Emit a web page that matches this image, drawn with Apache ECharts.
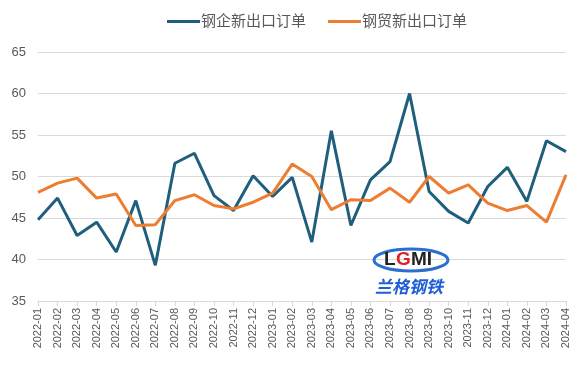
<!DOCTYPE html>
<html>
<head>
<meta charset="utf-8">
<script src="https://cdn.jsdelivr.net/npm/echarts@6/dist/echarts.min.js"></script>
<style>html,body{margin:0;padding:0;background:#fff}#c{width:578px;height:374px}</style>
</head>
<body>
<div id="c"></div>
<script>
const categories = ['2022-01','2022-02','2022-03','2022-04','2022-05','2022-06','2022-07','2022-08','2022-09','2022-10','2022-11','2022-12',
'2023-01','2023-02','2023-03','2023-04','2023-05','2023-06','2023-07','2023-08','2023-09','2023-10','2023-11','2023-12',
'2024-01','2024-02','2024-03','2024-04'];
const steelMills = [44.8,47.4,42.9,44.5,40.9,47.1,39.3,51.6,52.8,47.7,45.9,50.1,47.6,49.9,42.1,55.5,44.1,49.6,51.8,60.0,48.2,45.8,44.4,48.8,51.1,47.0,54.3,53.0];
const steelTraders = [48.1,49.2,49.8,47.4,47.9,44.1,44.2,47.1,47.8,46.5,46.1,46.9,48.0,51.5,50.0,46.0,47.2,47.1,48.6,46.9,50.0,48.0,49.0,46.8,45.9,46.5,44.5,50.2];
const seriesNames = ['钢企新出口订单','钢贸新出口订单'];
const yTicks = {min:35, max:65, interval:5};

const chart = echarts.init(document.getElementById('c'));
chart.setOption({
  animation:false,
  textStyle:{fontFamily:'"Liberation Sans","Noto Sans CJK SC",sans-serif'},
  legend:{
    top:9, left:162, itemWidth:33, itemHeight:3, itemGap:22,
    icon:'rect',
    textStyle:{fontSize:15,color:'#595959',padding:[0,0,0,-4]},
    data:seriesNames
  },
  grid:{left:38,right:12,top:52,bottom:73,containLabel:false},
  xAxis:{
    type:'category', data:categories, boundaryGap:false,
    axisLine:{lineStyle:{color:'#d9d9d9'}},
    axisTick:{show:true,alignWithLabel:true,length:5,lineStyle:{color:'#d9d9d9'}},
    axisLabel:{rotate:90,interval:0,fontSize:11,color:'#595959',margin:7}
  },
  yAxis:{
    type:'value', min:yTicks.min, max:yTicks.max, interval:yTicks.interval,
    axisLine:{show:false}, axisTick:{show:false},
    axisLabel:{fontSize:13,color:'#595959',margin:12},
    splitLine:{lineStyle:{color:'#d9d9d9',width:1}}
  },
  series:[
    {name:seriesNames[0],type:'line',data:steelMills,showSymbol:false,symbol:'none',
     lineStyle:{width:3,color:'#1F5F7D'},itemStyle:{color:'#1F5F7D'}},
    {name:seriesNames[1],type:'line',data:steelTraders,showSymbol:false,symbol:'none',
     lineStyle:{width:3,color:'#ED7D31'},itemStyle:{color:'#ED7D31'}}
  ],
  graphic:[
    {type:'ellipse',shape:{cx:411,cy:260,rx:37,ry:11},style:{fill:'rgba(255,255,255,0)',stroke:'#2a6fd0',lineWidth:3},z:10},
    {type:'text',left:384,top:250,style:{text:'L',font:'bold 19px "Liberation Sans"',fill:'#222'},z:11},
    {type:'text',left:396,top:250,style:{text:'G',font:'bold 19px "Liberation Sans"',fill:'#e02020'},z:11},
    {type:'text',left:411,top:250,style:{text:'MI',font:'bold 19px "Liberation Sans"',fill:'#222'},z:11},
    {type:'text',left:375,top:278,style:{text:'兰格钢铁',font:'italic bold 17px "Noto Sans CJK SC"',fill:'#1e5fd6'},z:11}
  ]
});
</script>
</body>
</html>
